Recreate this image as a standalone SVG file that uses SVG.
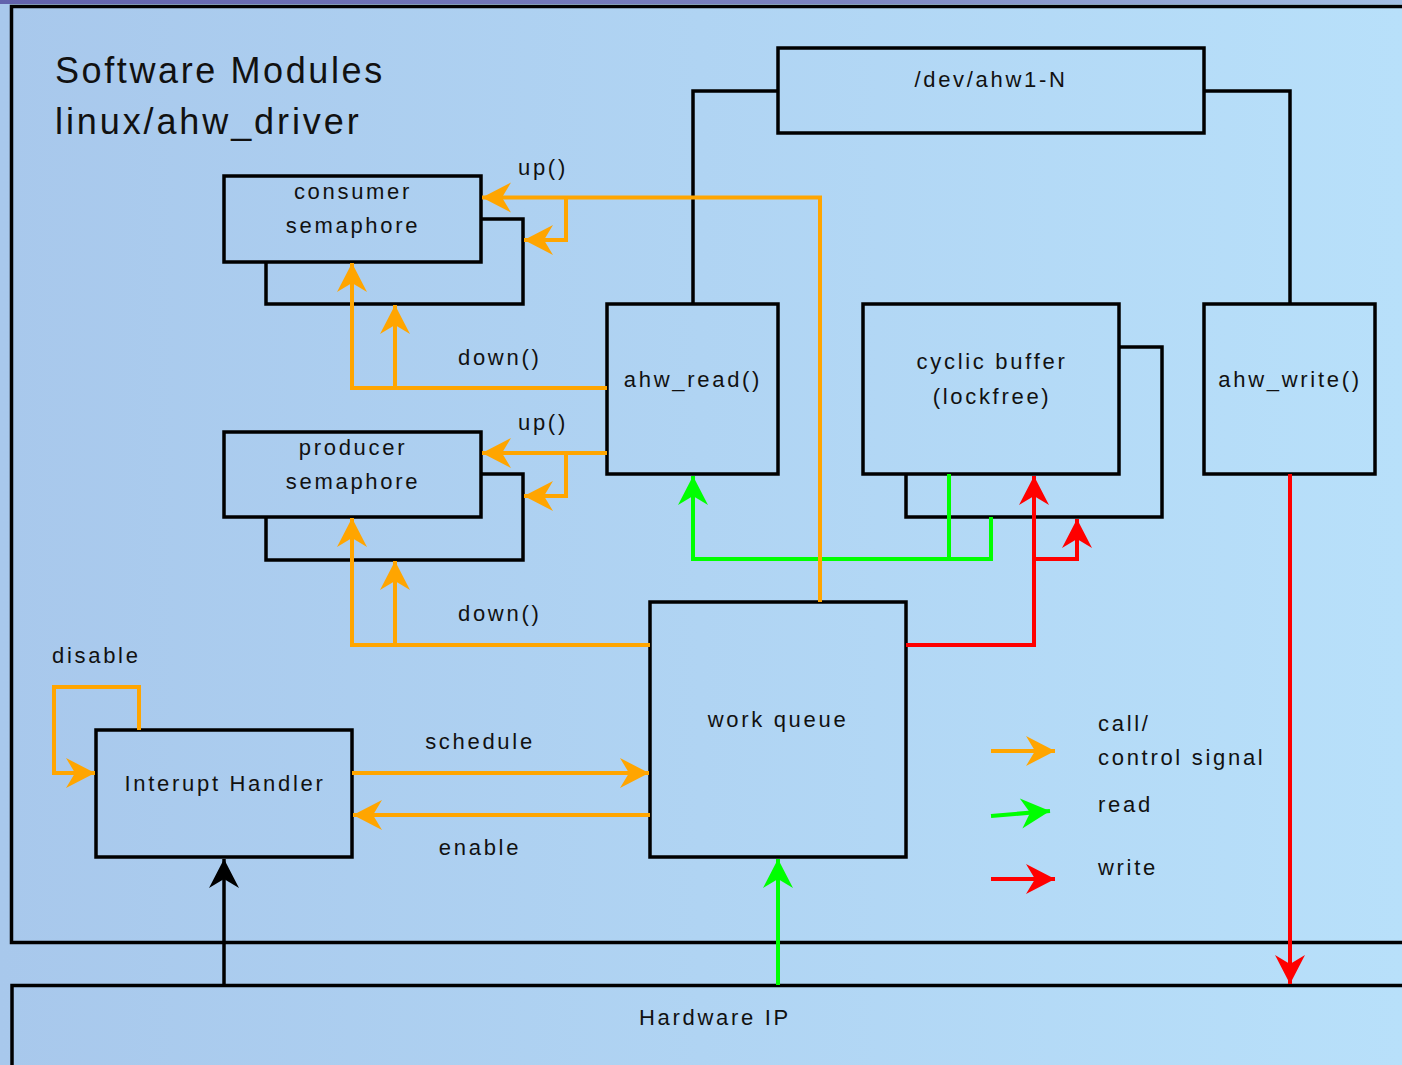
<svg xmlns="http://www.w3.org/2000/svg" width="1402" height="1065" viewBox="0 0 1402 1065">
<defs>
<linearGradient id="bg" x1="0" y1="0" x2="1" y2="0">
<stop offset="0" stop-color="#a8c8ec"/>
<stop offset="1" stop-color="#b8e0fa"/>
</linearGradient>
<linearGradient id="strip" x1="0" y1="0" x2="1" y2="0">
<stop offset="0" stop-color="#6262ac"/>
<stop offset="0.6" stop-color="#7c84c0"/>
<stop offset="1" stop-color="#a4c0e4"/>
</linearGradient>
<marker id="ao" markerUnits="userSpaceOnUse" viewBox="-31 -16 32 32" markerWidth="32" markerHeight="32" refX="0" refY="0" orient="auto"><path d="M0,0 L-29,-15 L-20,0 L-29,15 Z" fill="#ffa500"/></marker>
<marker id="ag" markerUnits="userSpaceOnUse" viewBox="-31 -16 32 32" markerWidth="32" markerHeight="32" refX="0" refY="0" orient="auto"><path d="M0,0 L-29,-15 L-20,0 L-29,15 Z" fill="#00ff00"/></marker>
<marker id="ar" markerUnits="userSpaceOnUse" viewBox="-31 -16 32 32" markerWidth="32" markerHeight="32" refX="0" refY="0" orient="auto"><path d="M0,0 L-29,-15 L-20,0 L-29,15 Z" fill="#ff0000"/></marker>
<marker id="ak" markerUnits="userSpaceOnUse" viewBox="-31 -16 32 32" markerWidth="32" markerHeight="32" refX="0" refY="0" orient="auto"><path d="M0,0 L-29,-15 L-20,0 L-29,15 Z" fill="#000000"/></marker>
</defs>
<style>
.box{fill:none;stroke:#000;stroke-width:3.5;stroke-linejoin:miter}
.t{font-family:"Liberation Sans",Arial,sans-serif;font-size:22px;letter-spacing:2.7px;fill:#111}
.m{text-anchor:middle}
.title{font-family:"Liberation Sans",Arial,sans-serif;font-size:36px;letter-spacing:2.6px;fill:#111}
.o{fill:none;stroke:#ffa500;stroke-width:4}
.g{fill:none;stroke:#00ff00;stroke-width:4}
.r{fill:none;stroke:#ff0000;stroke-width:4}
.k{fill:none;stroke:#000;stroke-width:3.5}
</style>
<rect x="0" y="0" width="1402" height="1065" fill="url(#bg)"/>
<rect x="0" y="0" width="1402" height="4" fill="url(#strip)"/>

<g id="software-modules">
<path class="box" d="M1410,6.5 H11.5 V942.5 H1410"/>
<text class="title" x="55" y="83">Software Modules</text>
<text class="title" x="55" y="134" style="letter-spacing:2.9px">linux/ahw_driver</text>
</g>

<g id="hardware-ip">
<path class="box" d="M12,1070 V985.5 H1410"/>
<text class="t m" x="715" y="1025">Hardware IP</text>
</g>

<g id="dev-node">
<rect class="box" x="778" y="48" width="426" height="85"/>
<text class="t m" x="991" y="87">/dev/ahw1-N</text>
</g>

<g id="consumer-semaphore">
<path class="box" d="M481,219 H523 V304 H266 V262"/>
<rect class="box" x="224" y="176" width="257" height="86"/>
<text class="t m" x="353" y="199">consumer</text>
<text class="t m" x="353" y="233">semaphore</text>
</g>

<g id="producer-semaphore">
<path class="box" d="M481,474 H523 V560 H266 V517"/>
<rect class="box" x="224" y="432" width="257" height="85"/>
<text class="t m" x="353" y="455">producer</text>
<text class="t m" x="353" y="489">semaphore</text>
</g>

<g id="ahw-read">
<rect class="box" x="607" y="304" width="171" height="170"/>
<text class="t m" x="693" y="387">ahw_read()</text>
</g>

<g id="cyclic-buffer">
<path class="box" d="M1119,347 H1162 V517 H906 V474"/>
<rect class="box" x="863" y="304" width="256" height="170"/>
<text class="t m" x="992" y="369">cyclic buffer</text>
<text class="t m" x="992" y="404">(lockfree)</text>
</g>

<g id="ahw-write">
<rect class="box" x="1204" y="304" width="171" height="170"/>
<text class="t m" x="1290" y="387">ahw_write()</text>
</g>

<g id="work-queue">
<rect class="box" x="650" y="602" width="256" height="255"/>
<text class="t m" x="778" y="727">work queue</text>
</g>

<g id="interrupt-handler">
<rect class="box" x="96" y="730" width="256" height="127"/>
<text class="t m" x="225" y="791">Interupt Handler</text>
</g>

<g id="connectors">
<path class="k" d="M693,304 V91 H778"/>
<path class="k" d="M1204,91 H1290 V304"/>
<path class="g" d="M949,474 V559 H693 V476" marker-end="url(#ag)"/>
<path class="g" d="M991,517 V559 H947"/>
<path class="o" d="M820,602 V197.5 H482" marker-end="url(#ao)"/>
<path class="o" d="M566,197.5 V240 H524" marker-end="url(#ao)"/>
<path class="o" d="M607,388 H352 V263" marker-end="url(#ao)"/>
<path class="o" d="M395,388 V305" marker-end="url(#ao)"/>
<path class="o" d="M607,453 H482" marker-end="url(#ao)"/>
<path class="o" d="M566,453 V496 H524" marker-end="url(#ao)"/>
<path class="o" d="M650,645 H352 V518" marker-end="url(#ao)"/>
<path class="o" d="M395,645 V561" marker-end="url(#ao)"/>
<path class="o" d="M352,773 H649" marker-end="url(#ao)"/>
<path class="o" d="M650,815 H353" marker-end="url(#ao)"/>
<path class="o" d="M139,730 V687 H54 V773 H95" marker-end="url(#ao)"/>
<path class="g" d="M778,985 V859" marker-end="url(#ag)"/>
<path class="r" d="M906,645 H1034 V476" marker-end="url(#ar)"/>
<path class="r" d="M1034,559 H1077 V519" marker-end="url(#ar)"/>
<path class="r" d="M1290,474 V984" marker-end="url(#ar)"/>
<path class="k" d="M224,985 V859" marker-end="url(#ak)"/>
<text class="t" x="518" y="175">up()</text>
<text class="t" x="458" y="365">down()</text>
<text class="t" x="518" y="430">up()</text>
<text class="t" x="458" y="621">down()</text>
<text class="t" x="52" y="663">disable</text>
<text class="t m" x="480" y="749">schedule</text>
<text class="t m" x="480" y="855">enable</text>
</g>

<g id="legend">
<path class="o" d="M991,751 H1055" marker-end="url(#ao)"/>
<path class="g" d="M991,816 L1050,811" marker-end="url(#ag)"/>
<path class="r" d="M991,879 H1055" marker-end="url(#ar)"/>
<text class="t" x="1098" y="731">call/</text>
<text class="t" x="1098" y="765">control signal</text>
<text class="t" x="1098" y="812">read</text>
<text class="t" x="1098" y="875">write</text>
</g>
</svg>
